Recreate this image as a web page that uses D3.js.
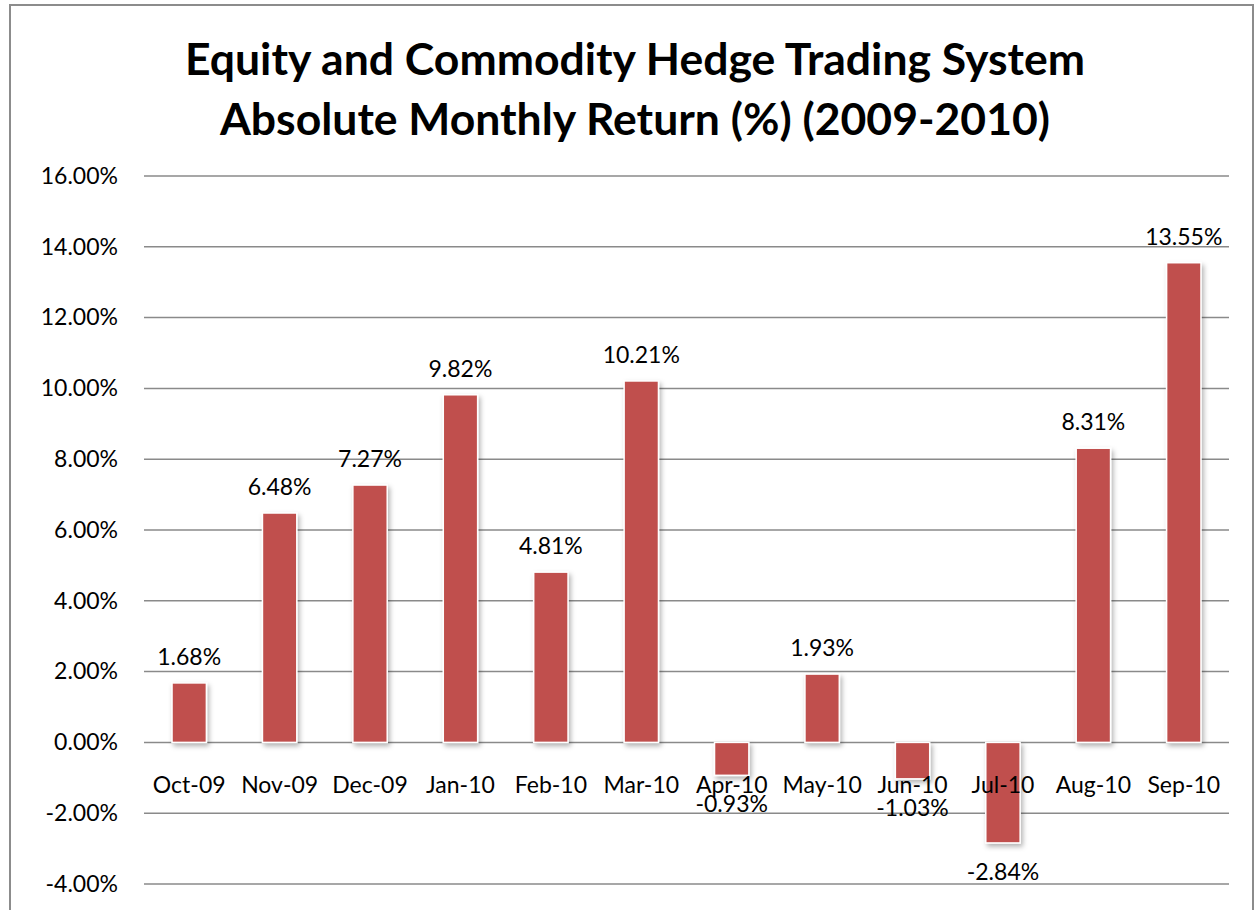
<!DOCTYPE html>
<html><head><meta charset="utf-8">
<script src="https://cdn.jsdelivr.net/npm/d3@7"></script>
<style>body{margin:0;background:#fff}svg{display:block}</style>
</head><body>
<script>
const categories = ["Oct-09","Nov-09","Dec-09","Jan-10","Feb-10","Mar-10","Apr-10","May-10","Jun-10","Jul-10","Aug-10","Sep-10"];
const values = [1.68,6.48,7.27,9.82,4.81,10.21,-0.93,1.93,-1.03,-2.84,8.31,13.55];
const yTicks = [-4,-2,0,2,4,6,8,10,12,14,16];
const titleLines = ["Equity and Commodity Hedge Trading System","Absolute Monthly Return (%) (2009-2010)"];

const W = 1257, H = 910;
const svg = d3.select("body").append("svg").attr("width", W).attr("height", H);
const defs = svg.append("defs");
const f = defs.append("filter").attr("id","sh").attr("x","-30%").attr("y","-30%").attr("width","160%").attr("height","160%");
f.append("feDropShadow").attr("dx",2).attr("dy",3).attr("stdDeviation",2.5).attr("flood-color","#000").attr("flood-opacity",0.3);

// frame
svg.append("rect").attr("x",10).attr("y",5).attr("width",1243).attr("height",920)
  .attr("fill","none").attr("stroke","#8c8c8c").attr("stroke-width",2);

const font = "Lato, 'Open Sans', sans-serif";
const left = 144, right = 1229;
const x = d3.scaleBand().domain(categories).range([left, right]).paddingInner(0.62).paddingOuter(0.31);
const y = d3.scaleLinear().domain([-4,16]).range([884,176]);

// title
svg.append("g").selectAll("text").data(titleLines).join("text")
  .attr("x", 635).attr("y", (d,i)=> 75 + i*60)
  .attr("text-anchor","middle").attr("font-family",font).attr("font-weight","bold")
  .attr("font-size",44.5).attr("fill","#000").text(d=>d);

// gridlines
svg.append("g").selectAll("line").data(yTicks).join("line")
  .attr("x1",left).attr("x2",right).attr("y1",d=>y(d)).attr("y2",d=>y(d))
  .attr("stroke","#8a8a8a").attr("stroke-width",1.5);

// y axis labels
const yAxis = d3.axisLeft(y).tickValues(yTicks).tickSize(0).tickPadding(26).tickFormat(d=>d.toFixed(2)+"%");
const ya = svg.append("g").attr("transform",`translate(${left},0)`).call(yAxis);
ya.select(".domain").remove();
ya.selectAll("text").attr("font-family",font).attr("font-size",23).attr("fill","#000");

// bars
svg.append("g").selectAll("rect").data(values).join("rect")
  .attr("x",(d,i)=>x(categories[i])).attr("width",x.bandwidth())
  .attr("y",d=>y(Math.max(0,d))).attr("height",d=>Math.abs(y(d)-y(0)))
  .attr("fill","#C0504D").attr("stroke","#fff").attr("stroke-width",1.5)
  .attr("filter","url(#sh)");

// x axis labels
const xAxis = d3.axisBottom(x).tickSize(0);
const xa = svg.append("g").attr("transform",`translate(0,${y(0)})`).call(xAxis);
xa.select(".domain").remove();
xa.selectAll("text").attr("y",51).attr("dy",0).attr("font-family",font).attr("font-size",23).attr("fill","#000");

// value labels
svg.append("g").selectAll("text").data(values).join("text")
  .attr("x",(d,i)=>x(categories[i])+x.bandwidth()/2)
  .attr("y",d=> d>=0 ? y(d)-18 : y(d)+37)
  .attr("text-anchor","middle").attr("font-family",font).attr("font-size",23).attr("fill","#000")
  .text(d=>d.toFixed(2)+"%");
</script>
</body></html>
